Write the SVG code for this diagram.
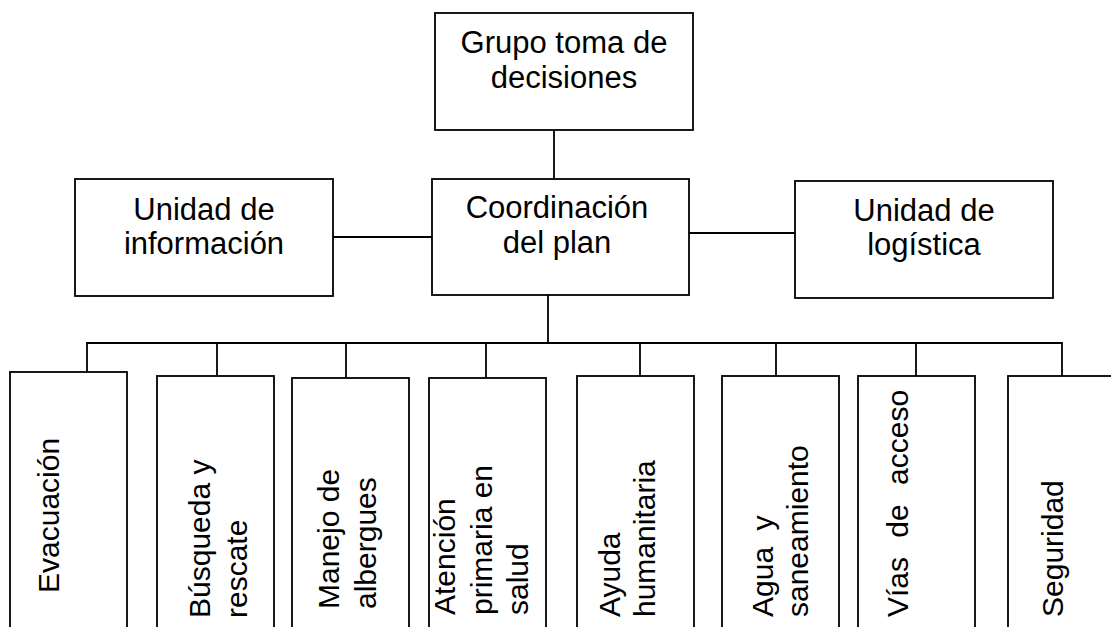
<svg xmlns="http://www.w3.org/2000/svg" width="1111" height="627" viewBox="0 0 1111 627">
<style>
.box{fill:#fff;stroke:#000;stroke-width:1.8}
.ln{fill:none;stroke:#000;stroke-width:1.8}
text{font-family:"Liberation Sans",Arial,sans-serif;font-size:30px;fill:#000}
.c{text-anchor:middle;font-size:31px}
</style>
<rect width="1111" height="627" fill="#fff"/>
<g id="connectors">
<line class="ln" x1="554" y1="130" x2="554" y2="179"/>
<line class="ln" x1="333" y1="237" x2="432" y2="237"/>
<line class="ln" x1="689" y1="233" x2="795" y2="233"/>
<line class="ln" x1="548" y1="295" x2="548" y2="343"/>
<polyline class="ln" points="87,376 87,343 1062,343 1062,376"/>
<line class="ln" x1="217" y1="343" x2="217" y2="376"/>
<line class="ln" x1="346" y1="343" x2="346" y2="378"/>
<line class="ln" x1="486" y1="343" x2="486" y2="378"/>
<line class="ln" x1="640" y1="343" x2="640" y2="376"/>
<line class="ln" x1="776" y1="343" x2="776" y2="376"/>
<line class="ln" x1="916" y1="343" x2="916" y2="376"/>
</g>
<g id="grupo">
<rect class="box" x="435" y="13" width="258" height="117"/>
<text class="c" x="564" y="53">Grupo toma de<tspan x="564" y="88">decisiones</tspan></text>
</g>
<g id="coordinacion">
<rect class="box" x="432" y="179" width="257" height="116"/>
<text class="c" x="557" y="218">Coordinación<tspan x="557" y="253">del plan</tspan></text>
</g>
<g id="informacion">
<rect class="box" x="75" y="179" width="258" height="117"/>
<text class="c" x="204" y="220">Unidad de<tspan x="204" y="254">información</tspan></text>
</g>
<g id="logistica">
<rect class="box" x="795" y="181" width="258" height="117"/>
<text class="c" x="924" y="221">Unidad de<tspan x="924" y="255">logística</tspan></text>
</g>
<g id="evacuacion">
<rect class="box" x="10" y="372" width="117" height="290"/>
<text transform="translate(59,593) rotate(-90)">Evacuación</text>
</g>
<g id="busqueda">
<rect class="box" x="157" y="376" width="117" height="290"/>
<text transform="translate(210,618) rotate(-90)">Búsqueda y<tspan x="0" y="36.7">rescate</tspan></text>
</g>
<g id="manejo">
<rect class="box" x="292" y="378" width="117" height="290"/>
<text transform="translate(339,609) rotate(-90)">Manejo de<tspan x="0" y="36.7">albergues</tspan></text>
</g>
<g id="atencion">
<rect class="box" x="429" y="378" width="117" height="290"/>
<text transform="translate(455,615) rotate(-90)">Atención<tspan x="0" y="36.7">primaria en</tspan><tspan x="0" y="73.4">salud</tspan></text>
</g>
<g id="ayuda">
<rect class="box" x="577" y="376" width="117" height="290"/>
<text transform="translate(620,617) rotate(-90)">Ayuda<tspan x="0" y="35">humanitaria</tspan></text>
</g>
<g id="agua">
<rect class="box" x="722" y="376" width="117" height="290"/>
<text transform="translate(773,617) rotate(-90)"><tspan word-spacing="8">Agua y</tspan><tspan x="0" y="35">saneamiento</tspan></text>
</g>
<g id="vias">
<rect class="box" x="858" y="376" width="117" height="290"/>
<text transform="translate(908,617) rotate(-90)" word-spacing="11">Vías de acceso</text>
</g>
<g id="seguridad">
<rect class="box" x="1008" y="376" width="117" height="290"/>
<text transform="translate(1063,617) rotate(-90)">Seguridad</text>
</g>
</svg>
